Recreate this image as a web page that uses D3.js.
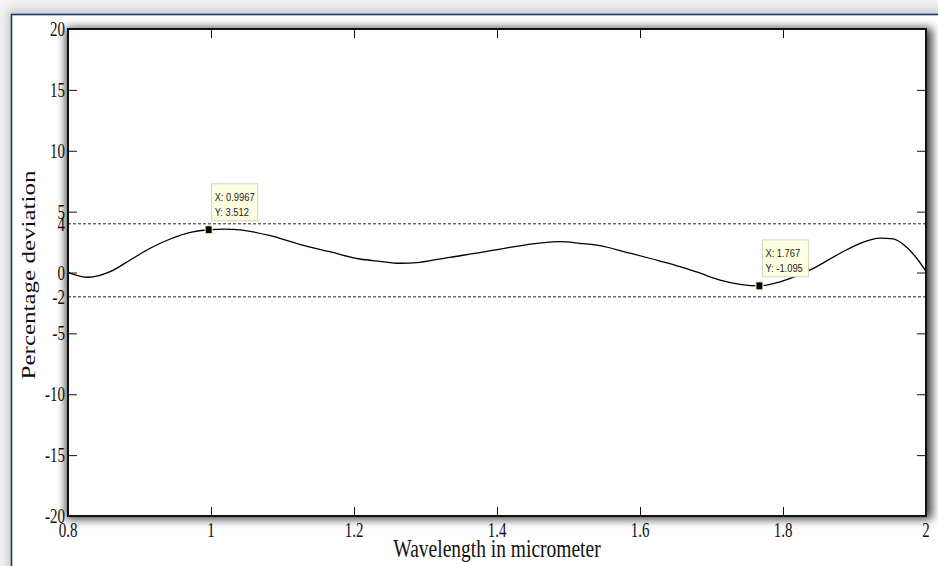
<!DOCTYPE html>
<html lang="en">
<head>
<meta charset="utf-8">
<script src="https://d3js.org/d3.v7.min.js"></script>
<style>
  body { margin: 0; background: #f2f2f2; }
  svg { display: block; }
</style>
</head>
<body>
<script>
// curve
var wavelength = [0.8, 0.828, 0.859, 0.887, 0.915, 0.943, 0.971, 0.9967, 1.02, 1.041,
  1.083, 1.124, 1.166, 1.208, 1.236, 1.264, 1.292, 1.334, 1.376, 1.418,
  1.46, 1.488, 1.516, 1.544, 1.581, 1.628, 1.656, 1.684, 1.712, 1.74,
  1.767, 1.796, 1.838, 1.88, 1.908, 1.936, 1.954, 1.973, 1.987, 2.0];
var deviation = [0.0, -0.39, 0.07, 1.03, 1.99, 2.75, 3.29, 3.512, 3.56, 3.5,
  3.02, 2.31, 1.71, 1.11, 0.92, 0.76, 0.84, 1.25, 1.63, 2.07,
  2.42, 2.53, 2.4, 2.21, 1.66, 0.94, 0.48, -0.06, -0.62, -0.97,
  -1.095, -0.76, 0.21, 1.58, 2.4, 2.82, 2.77, 2.08, 1.17, 0.1];

var limits = [4, -2];
var xTicks = [0.8, 1, 1.2, 1.4, 1.6, 1.8, 2];
var xTickLabels = ["0.8", "1", "1.2", "1.4", "1.6", "1.8", "2"];
var yTicks = [-20, -15, -10, -5, 0, 5, 10, 15, 20];
var yTickLabels = [-20, -15, -10, -5, -2, 0, 4, 5, 10, 15, 20];
var tipX = [0.9967, 1.767];
var tipY = [3.512, -1.095];
var tipText = [["X: 0.9967", "Y: 3.512"], ["X: 1.767", "Y: -1.095"]];

var W = 938, H = 566;
var pL = 68, pR = 926, pT = 29, pB = 516;

var x = d3.scaleLinear().domain([0.8, 2]).range([pL, pR]);
var y = d3.scaleLinear().domain([-20, 20]).range([pB, pT]);

var svg = d3.select("body").append("svg")
    .attr("width", W)
    .attr("height", H);

var defs = svg.append("defs");
defs.append("filter").attr("id", "blur")
    .attr("x", "-20%").attr("y", "-20%").attr("width", "140%").attr("height", "140%")
  .append("feGaussianBlur").attr("stdDeviation", 5);
defs.append("clipPath").attr("id", "clip")
  .append("rect").attr("x", pL).attr("y", pT)
    .attr("width", pR - pL).attr("height", pB - pT);

// outer panel
svg.append("rect")
    .attr("x", 8).attr("y", 10).attr("width", W).attr("height", H)
    .attr("fill", "#c8c8c8").attr("filter", "url(#blur)");
svg.append("rect")
    .attr("x", 11.5).attr("y", 14.5).attr("width", W + 20).attr("height", H + 20)
    .attr("fill", "#fff").attr("stroke", "#1c3478").attr("stroke-width", 1.6);

// plot shadow + box
svg.append("rect")
    .attr("x", pL - 2).attr("y", pT - 1).attr("width", pR - pL + 8).attr("height", pB - pT + 4)
    .attr("fill", "#3a3a3a").attr("filter", "url(#blur)");
svg.append("rect")
    .attr("x", pL).attr("y", pT).attr("width", pR - pL).attr("height", pB - pT)
    .attr("fill", "#fff");

// ticks (inward on all four sides)
svg.append("g").attr("transform", "translate(0," + pB + ")")
    .call(d3.axisBottom(x).tickValues(xTicks).tickSize(-9).tickFormat(""));
svg.append("g").attr("transform", "translate(0," + pT + ")")
    .call(d3.axisTop(x).tickValues(xTicks).tickSize(-9).tickFormat(""));
svg.append("g").attr("transform", "translate(" + pL + ",0)")
    .call(d3.axisLeft(y).tickValues(yTicks).tickSize(-9).tickFormat(""));
svg.append("g").attr("transform", "translate(" + pR + ",0)")
    .call(d3.axisRight(y).tickValues(yTicks).tickSize(-9).tickFormat(""));
svg.selectAll(".domain").remove();
svg.selectAll(".tick line").attr("stroke", "#111").attr("stroke-width", 1);

// limit lines
svg.selectAll(".limit").data(limits).enter().append("line")
    .attr("class", "limit")
    .attr("x1", pL).attr("x2", pR)
    .attr("y1", function(d) { return y(d); })
    .attr("y2", function(d) { return y(d); })
    .attr("stroke", "#222").attr("stroke-width", 1)
    .attr("stroke-dasharray", "3,2");

// curve
var pts = wavelength.map(function(w, i) { return [w, deviation[i]]; });
var line = d3.line()
    .x(function(d) { return x(d[0]); })
    .y(function(d) { return y(d[1]); })
    .curve(d3.curveMonotoneX);
svg.append("path")
    .datum(pts)
    .attr("clip-path", "url(#clip)")
    .attr("d", line)
    .attr("fill", "none")
    .attr("stroke", "#000")
    .attr("stroke-width", 1.3);

// box
svg.append("rect")
    .attr("x", pL).attr("y", pT).attr("width", pR - pL).attr("height", pB - pT)
    .attr("fill", "none").attr("stroke", "#111").attr("stroke-width", 2);

// tick labels (serif, squeezed like the source image)
var sq = 0.75;
svg.selectAll(".ylab").data(yTickLabels).enter().append("text")
    .attr("class", "ylab")
    .attr("transform", function(d) { return "translate(" + (pL - 3) + "," + y(d) + ") scale(" + sq + ",1)"; })
    .attr("dy", "0.35em")
    .attr("text-anchor", "end")
    .attr("font-family", "Liberation Serif")
    .attr("font-size", 20)
    .attr("fill", "#111")
    .text(function(d) { return d; });

svg.selectAll(".xlab").data(xTicks).enter().append("text")
    .attr("class", "xlab")
    .attr("transform", function(d) { return "translate(" + x(d) + "," + (pB + 21) + ") scale(" + sq + ",1)"; })
    .attr("text-anchor", "middle")
    .attr("font-family", "Liberation Serif")
    .attr("font-size", 20)
    .attr("fill", "#111")
    .text(function(d, i) { return xTickLabels[i]; });

// axis titles
svg.append("text")
    .attr("transform", "translate(" + (pL + pR) / 2 + ",557) scale(" + sq + ",1)")
    .attr("text-anchor", "middle")
    .attr("font-family", "Liberation Serif")
    .attr("font-size", 26)
    .attr("fill", "#111")
    .text("Wavelength in micrometer");

svg.append("text")
    .attr("transform", "translate(35,275) scale(" + sq + ",1) rotate(-90)")
    .attr("text-anchor", "middle")
    .attr("font-family", "Liberation Serif")
    .attr("font-size", 25)
    .attr("fill", "#111")
    .text("Percentage deviation");

// data tips
var tips = svg.selectAll(".tip").data(tipX).enter().append("g")
    .attr("class", "tip")
    .attr("transform", function(d, i) { return "translate(" + x(d) + "," + y(tipY[i]) + ")"; });

tips.append("rect")
    .attr("x", 3).attr("y", -46).attr("width", 46).attr("height", 37)
    .attr("fill", "#ffffe1").attr("stroke", "#d4d4c4").attr("stroke-width", 1);

tips.append("rect")
    .attr("x", -3.5).attr("y", -4).attr("width", 7).attr("height", 8)
    .attr("fill", "#000").attr("stroke", "#ffffc8").attr("stroke-width", 1);

tips.each(function(d, i) {
  var g = d3.select(this);
  tipText[i].forEach(function(t, j) {
    g.append("text")
      .attr("transform", "translate(6," + (-29 + j * 15) + ") scale(0.85,1)")
      .attr("font-family", "Liberation Sans")
      .attr("font-size", 11)
      .attr("fill", "#222")
      .text(t);
  });
});
</script>
</body>
</html>
